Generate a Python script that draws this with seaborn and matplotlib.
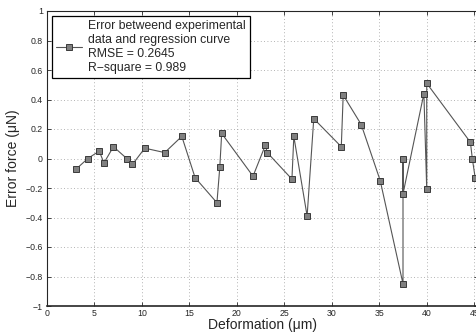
import matplotlib
matplotlib.use("Agg")
import matplotlib.pyplot as plt
import seaborn as sns
import pandas as pd

# deformation (um) and error force (uN), in the order the curve is drawn
deformation = [3.1, 4.3, 5.5, 6.0, 7.0, 8.4, 9.0, 10.3, 12.4, 14.2,
               15.6, 17.9, 18.2, 18.4, 21.7, 23.0, 23.2, 25.8, 26.0, 27.4,
               28.1, 31.0, 31.2, 33.1, 35.1, 37.5, 37.5, 37.5, 39.7, 40.0,
               40.0, 44.6, 44.8, 45.1]
error_force = [-0.07, 0.0, 0.05, -0.03, 0.08, 0.0, -0.04, 0.07, 0.04, 0.15,
               -0.13, -0.30, -0.06, 0.17, -0.12, 0.09, 0.04, -0.14, 0.15, -0.39,
               0.27, 0.08, 0.43, 0.23, -0.15, -0.85, 0.0, -0.24, 0.44, -0.21,
               0.51, 0.11, 0.0, -0.13]

x_ticks = [0, 5, 10, 15, 20, 25, 30, 35, 40, 45]
y_ticks = [-1, -0.8, -0.6, -0.4, -0.2, 0, 0.2, 0.4, 0.6, 0.8, 1]
y_tick_labels = ["\u22121", "\u22120.8", "\u22120.6", "\u22120.4", "\u22120.2",
                 "0", "0.2", "0.4", "0.6", "0.8", "1"]

legend_label = ("Error betweend experimental\ndata and regression curve\n"
                "RMSE = 0.2645\nR\u2212square = 0.989")

df = pd.DataFrame({"deformation": deformation, "error": error_force})

sns.set_style("ticks")
plt.rcParams["font.family"] = ["Liberation Sans", "DejaVu Sans"]

fig = plt.figure(figsize=(4.77, 3.35), dpi=100)
ax = fig.add_axes([47 / 477, 29 / 335, 431 / 477, 295 / 335])

sns.lineplot(data=df, x="deformation", y="error", sort=False, estimator=None,
             color="#555555", linewidth=0.8, marker="s", markersize=4.8,
             markerfacecolor="#808080", markeredgecolor="#3a3a3a",
             markeredgewidth=0.7, label=legend_label, ax=ax)

ax.set_xlim(0, 45.4)
ax.set_ylim(-1, 1)
ax.set_xticks(x_ticks)
ax.set_yticks(y_ticks)
ax.set_yticklabels(y_tick_labels)
ax.tick_params(direction="in", top=True, right=True, labelsize=6.3, length=3,
               width=0.6, pad=3)
ax.tick_params(axis="x", pad=2)
ax.grid(True, linestyle=(0, (1, 3)), color="#9a9a9a", linewidth=0.6)
for s in ax.spines.values():
    s.set_linewidth(0.8)
ax.spines["bottom"].set_linewidth(1.2)

ax.set_xlabel("Deformation (\u03bcm)", fontsize=10, labelpad=0)
ax.set_ylabel("Error force (\u03bcN)", fontsize=10, labelpad=4)

leg = ax.legend(loc="upper left", fontsize=8.8, frameon=True, fancybox=False,
                borderaxespad=0.4, handlelength=2.1, borderpad=0.35,
                labelspacing=0.2, handletextpad=0.5)
leg.get_frame().set_edgecolor("black")
leg.get_frame().set_linewidth(0.9)
leg.get_frame().set_alpha(1)

fig.savefig("out.png", dpi=100)
